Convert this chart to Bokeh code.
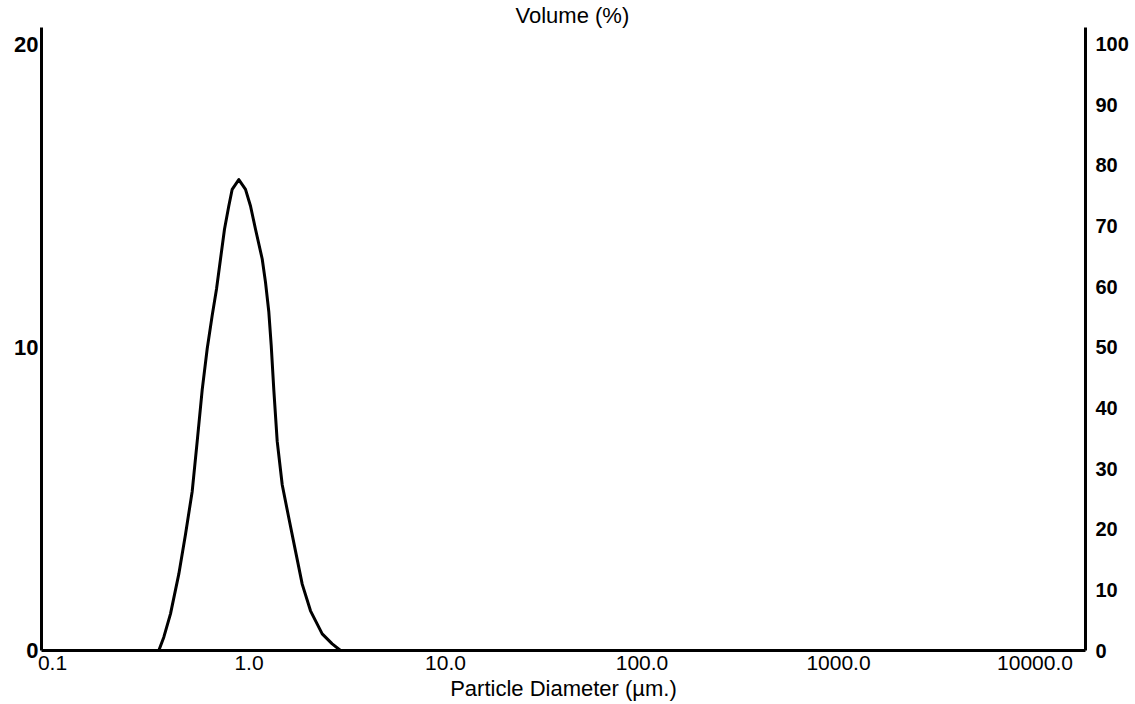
from bokeh.plotting import figure
from bokeh.models import LinearAxis, Range1d, FixedTicker
from bokeh.embed import file_html
from bokeh.resources import INLINE

# ---- data ----
diameter_um = [0.3475, 0.3685, 0.3985, 0.4392, 0.4750, 0.5139, 0.5449, 0.5778,
               0.6127, 0.6497, 0.6834, 0.7161, 0.7503, 0.7891, 0.8212, 0.8873,
               0.9598, 1.0177, 1.0792, 1.1674, 1.2134, 1.2615, 1.2972, 1.3373,
               1.3917, 1.4757, 1.5936, 1.7246, 1.8652, 2.0559, 2.3579, 2.6509,
               2.9215]
volume_pct = [0.0, 0.44, 1.21, 2.52, 3.83, 5.25, 6.90, 8.60,
              9.96, 11.06, 11.93, 12.92, 13.90, 14.67, 15.22, 15.54,
              15.22, 14.67, 13.90, 12.92, 12.15, 11.17, 10.07, 8.60,
              6.90, 5.47, 4.38, 3.28, 2.19, 1.31, 0.55, 0.22,
              0.0]

x_ticks = [0.1, 1, 10, 100, 1000, 10000]
x_tick_labels = ["0.1", "1.0", "10.0", "100.0", "1000.0", "10000.0"]
left_ticks = [0, 10, 20]
right_ticks = [0, 10, 20, 30, 40, 50, 60, 70, 80, 90, 100]

FONT = "Liberation Sans"

p = figure(width=1135, height=704, x_axis_type="log",
           x_range=Range1d(0.0879, 18070), y_range=Range1d(0, 20.56),
           output_backend="svg", toolbar_location=None,
           min_border_left=41, min_border_right=50,
           min_border_top=24, min_border_bottom=54)
p.outline_line_color = None
p.grid.visible = False
p.background_fill_color = "white"
p.border_fill_color = "white"

# title at top
p.title.text = "Volume (%)"
p.title.align = "left"
p.title.offset = 474
p.title.standoff = 0
p.title.text_font = FONT
p.title.text_font_style = "normal"
p.title.text_font_size = "22px"
p.title.text_color = "black"

# bottom axis
xa = p.xaxis[0]
xa.ticker = FixedTicker(ticks=x_ticks)
xa.major_label_overrides = {t: l for t, l in zip(x_ticks, x_tick_labels)}
xa.major_tick_out = 0
xa.major_tick_in = 0
xa.minor_tick_out = 0
xa.minor_tick_in = 0
xa.axis_line_width = 3
xa.axis_line_color = "black"
xa.major_label_text_font = FONT
xa.major_label_text_font_size = "21px"
xa.major_label_text_color = "black"
xa.major_label_standoff = 5
xa.axis_label = "Particle Diameter (µm.)"
xa.axis_label_text_font = FONT
xa.axis_label_text_font_style = "normal"
xa.axis_label_text_font_size = "22px"
xa.axis_label_standoff = 3
xa.axis_label_text_color = "black"

# left axis
ya = p.yaxis[0]
ya.ticker = FixedTicker(ticks=left_ticks)
ya.major_tick_out = 0
ya.major_tick_in = 0
ya.minor_tick_out = 0
ya.minor_tick_in = 0
ya.axis_line_width = 3
ya.axis_line_color = "black"
ya.major_label_text_font = FONT
ya.major_label_text_font_style = "bold"
ya.major_label_text_font_size = "22px"
ya.major_label_text_color = "black"
ya.major_label_standoff = 3

# right axis
p.extra_y_ranges = {"cum": Range1d(0, 102.7)}
ra = LinearAxis(y_range_name="cum", ticker=FixedTicker(ticks=right_ticks))
ra.major_tick_out = 0
ra.major_tick_in = 0
ra.minor_tick_out = 0
ra.minor_tick_in = 0
ra.axis_line_width = 3
ra.axis_line_color = "black"
ra.major_label_text_font = FONT
ra.major_label_text_font_style = "bold"
ra.major_label_text_font_size = "20px"
ra.major_label_text_color = "black"
ra.major_label_standoff = 10
p.add_layout(ra, "right")

# curve
p.line(diameter_um, volume_pct, line_width=3, line_color="black",
       line_join="round", line_cap="round")

open("out.html", "w").write(file_html(p, INLINE))
